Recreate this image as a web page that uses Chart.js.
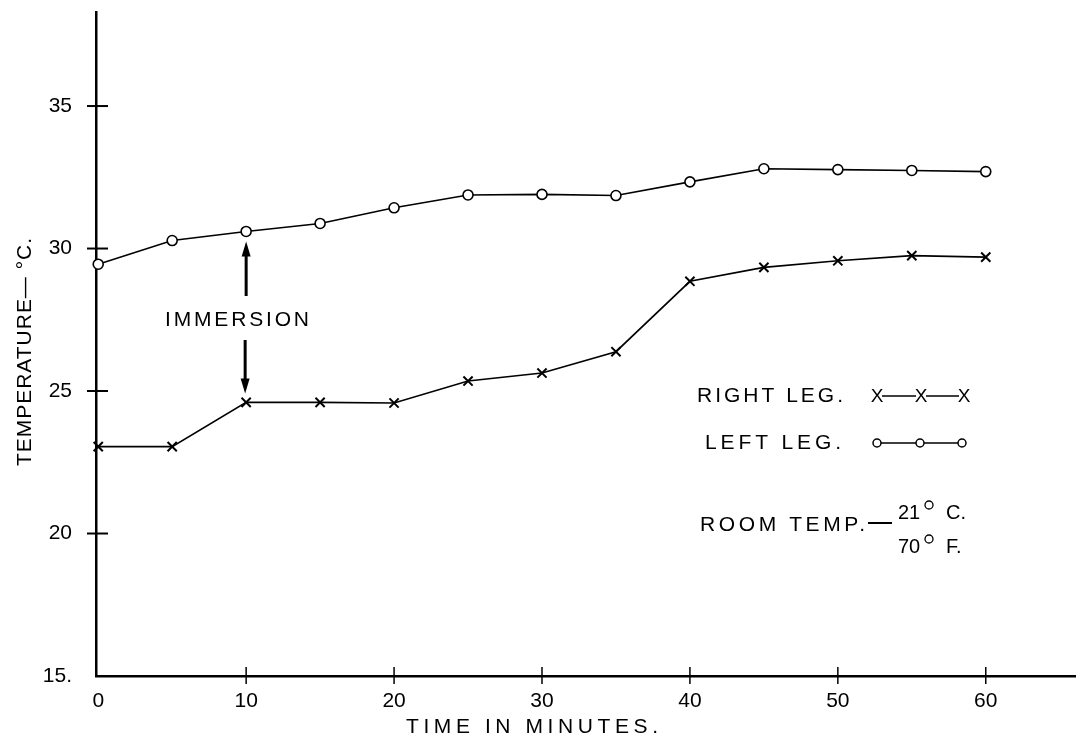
<!DOCTYPE html>
<html>
<head>
<meta charset="utf-8">
<title>Temperature - immersion</title>
<script src="https://cdn.jsdelivr.net/npm/chart.js@4/dist/chart.umd.min.js"></script>
<style>
  body { margin: 0; background: #fff; }
  canvas { display: block; }
</style>
</head>
<body>
<canvas id="chart" width="1076" height="742"></canvas>
<script>
// readings every 5 minutes
const minutes = [0, 5, 10, 15, 20, 25, 30, 35, 40, 45, 50, 55, 60];
const rightLeg = [23.05, 23.05, 24.6, 24.6, 24.58, 25.35, 25.63, 26.38, 28.85, 29.34, 29.57, 29.75, 29.7];
const leftLeg = [29.45, 30.28, 30.6, 30.88, 31.43, 31.88, 31.9, 31.86, 32.34, 32.8, 32.77, 32.74, 32.7];

const xTicks = [0, 10, 20, 30, 40, 50, 60];
const yTicks = [15, 20, 25, 30, 35];

const FONT = '"Liberation Sans", Arial, sans-serif';

// stretch text to a given width with letter spacing
function spaced(ctx, text, x, y, w) {
  ctx.letterSpacing = '0px';
  const n = [...text].length;
  const base = ctx.measureText(text).width;
  const sp = n > 1 ? Math.max(0, (w - base) / (n - 1)) : 0;
  ctx.letterSpacing = sp + 'px';
  ctx.textAlign = 'left';
  ctx.fillText(text, x, y);
  ctx.letterSpacing = '0px';
}

function arrow(ctx, x, y0, y1) {
  const dir = y1 > y0 ? 1 : -1;
  ctx.lineWidth = 3;
  ctx.beginPath();
  ctx.moveTo(x, y0);
  ctx.lineTo(x, y1 - dir * 12);
  ctx.stroke();
  ctx.beginPath();
  ctx.moveTo(x, y1);
  ctx.lineTo(x - 4.5, y1 - dir * 15);
  ctx.lineTo(x + 4.5, y1 - dir * 15);
  ctx.closePath();
  ctx.fill();
}

function noPad(s) {
  s.paddingTop = 0;
  s.paddingBottom = 0;
  s.paddingLeft = 0;
  s.paddingRight = 0;
}

const extras = {
  id: 'extras',
  afterDraw(chart) {
    const ctx = chart.ctx;
    const xs = chart.scales.x, ys = chart.scales.y;
    const area = chart.chartArea;
    ctx.save();
    ctx.strokeStyle = '#000';
    ctx.fillStyle = '#000';

    // tick marks crossing the axes
    ctx.lineWidth = 2;
    yTicks.slice(1).forEach(v => {
      const py = ys.getPixelForValue(v);
      ctx.beginPath();
      ctx.moveTo(area.left - 9, py);
      ctx.lineTo(area.left + 12, py);
      ctx.stroke();
    });
    ctx.lineWidth = 1.5;
    xTicks.slice(1).forEach(v => {
      const px = xs.getPixelForValue(v);
      ctx.beginPath();
      ctx.moveTo(px, area.bottom - 9);
      ctx.lineTo(px, area.bottom + 8);
      ctx.stroke();
    });

    ctx.textBaseline = 'middle';
    ctx.font = '21px ' + FONT;

    // axis titles
    spaced(ctx, 'TIME IN MINUTES.', 406, 727, 252);
    ctx.save();
    ctx.translate(25, 352);
    ctx.rotate(-Math.PI / 2);
    spaced(ctx, 'TEMPERATURE\u2014 \u00B0C.', -114, 0, 228);
    ctx.restore();

    // immersion note with arrows at minute 10
    const ax = xs.getPixelForValue(10);
    spaced(ctx, 'IMMERSION', 165, 320, 144);
    arrow(ctx, ax, 296, ys.getPixelForValue(leftLeg[2]) + 10);
    arrow(ctx, ax - 1, 340, ys.getPixelForValue(rightLeg[2]) - 9);

    // key
    spaced(ctx, 'RIGHT LEG.', 697, 396, 146);
    spaced(ctx, 'LEFT LEG.', 705, 443, 136);
    spaced(ctx, 'ROOM TEMP.', 700, 525, 165);
    ctx.lineWidth = 2;
    ctx.beginPath();
    ctx.moveTo(868, 523);
    ctx.lineTo(892, 523);
    ctx.stroke();
    ctx.font = '20px ' + FONT;
    ctx.fillText('21', 898, 513);
    ctx.fillText('70', 898, 547);
    ctx.fillText('C.', 946, 513);
    ctx.fillText('F.', 946, 547);
    ctx.lineWidth = 1.3;
    [505, 539].forEach(cy => {
      ctx.beginPath();
      ctx.arc(929, cy, 4, 0, Math.PI * 2);
      ctx.stroke();
    });

    // key symbols
    ctx.lineWidth = 1.5;
    ctx.beginPath();
    ctx.moveTo(878, 396); ctx.lineTo(965, 396);
    ctx.moveTo(878, 443); ctx.lineTo(962, 443);
    ctx.stroke();
    ctx.font = '19px ' + FONT;
    ctx.textAlign = 'center';
    [877, 921, 964].forEach(px => {
      ctx.fillStyle = '#fff';
      ctx.fillRect(px - 5, 389, 10, 14);
      ctx.fillStyle = '#000';
      ctx.fillText('X', px, 397);
    });
    [877, 920, 962].forEach(px => {
      ctx.beginPath();
      ctx.arc(px, 443, 4, 0, Math.PI * 2);
      ctx.fillStyle = '#fff';
      ctx.fill();
      ctx.stroke();
    });
    ctx.restore();
  }
};

new Chart(document.getElementById('chart'), {
  type: 'scatter',
  data: {
    datasets: [
      {
        label: 'RIGHT LEG.',
        data: minutes.map((m, i) => ({ x: m, y: rightLeg[i] })),
        showLine: true,
        borderColor: '#000',
        borderWidth: 1.6,
        pointStyle: 'crossRot',
        pointRadius: 6.5,
        pointBorderWidth: 2,
        pointBorderColor: '#000',
        clip: false
      },
      {
        label: 'LEFT LEG.',
        data: minutes.map((m, i) => ({ x: m, y: leftLeg[i] })),
        showLine: true,
        borderColor: '#000',
        borderWidth: 1.6,
        pointStyle: 'circle',
        pointRadius: 5,
        pointBorderWidth: 1.6,
        pointBorderColor: '#000',
        pointBackgroundColor: '#fff',
        clip: false
      }
    ]
  },
  options: {
    responsive: false,
    animation: false,
    devicePixelRatio: 1,
    layout: { autoPadding: false, padding: { top: 12, right: 0, left: 0, bottom: 0 } },
    plugins: { legend: { display: false }, tooltip: { enabled: false } },
    scales: {
      x: {
        type: 'linear',
        min: -0.15,
        max: 66.1,
        afterBuildTicks: s => { s.ticks = xTicks.map(v => ({ value: v })); },
        afterFit: s => { s.height = 66; noPad(s); },
        grid: { display: false, drawTicks: false },
        border: { display: true, color: '#000', width: 2.5 },
        ticks: { color: '#000', padding: 13, maxRotation: 0, font: { family: FONT, size: 21 } }
      },
      y: {
        min: 15,
        max: 38.3,
        afterBuildTicks: s => { s.ticks = yTicks.map(v => ({ value: v })); },
        afterFit: s => { s.width = 96; noPad(s); },
        grid: { display: false, drawTicks: false },
        border: { display: true, color: '#000', width: 2.5 },
        ticks: {
          color: '#000',
          padding: 24,
          font: { family: FONT, size: 21 },
          callback: v => (v === 15 ? '15.' : String(v))
        }
      }
    }
  },
  plugins: [extras]
});
</script>
</body>
</html>
